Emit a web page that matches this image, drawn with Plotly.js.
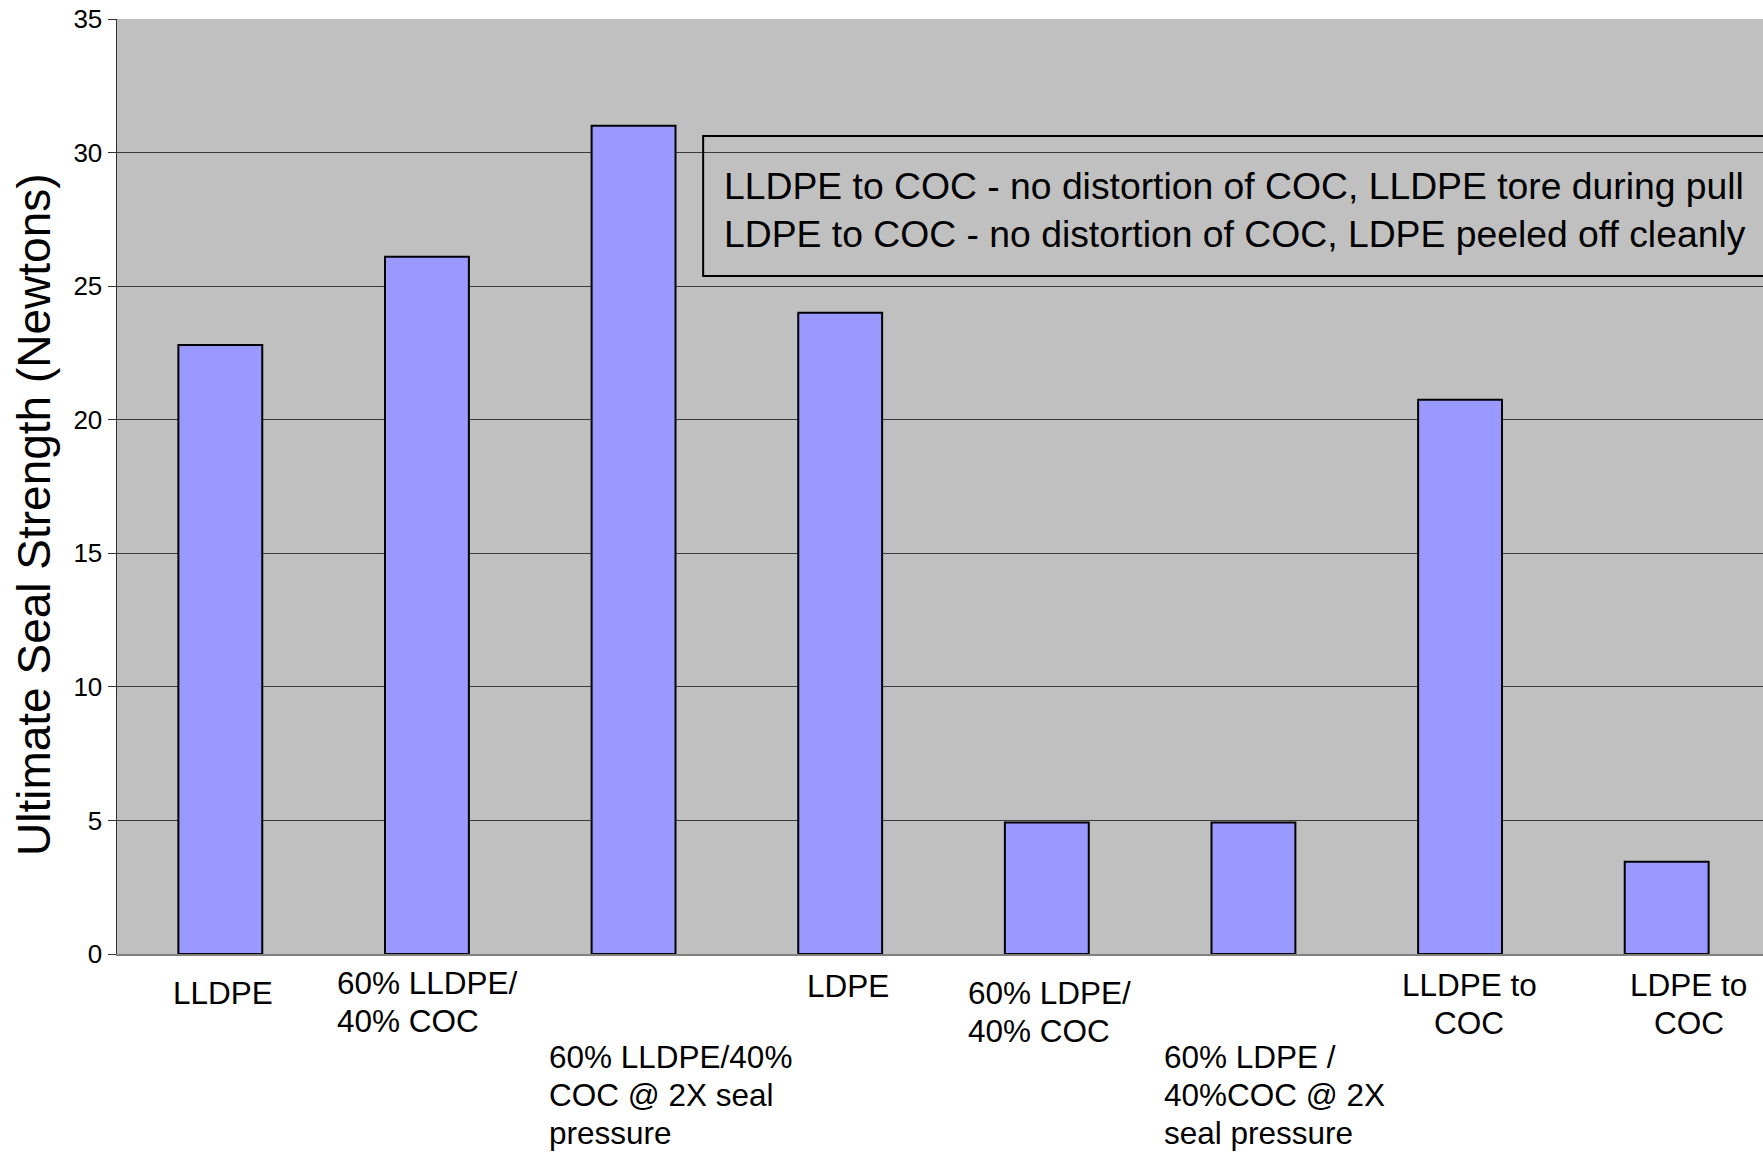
<!DOCTYPE html>
<html>
<head>
<meta charset="utf-8">
<script src="https://cdn.plot.ly/plotly-3.0.1.min.js"></script>
<style>
  html, body { margin: 0; padding: 0; overflow: hidden; background: #ffffff; }
  #chart { width: 1780px; height: 1152px; }
</style>
</head>
<body>
<div id="chart"></div>
<script>
// ---- data ----
const categories = [
  "LLDPE",
  "60% LLDPE/40% COC",
  "60% LLDPE/40% COC @ 2X seal pressure",
  "LDPE",
  "60% LDPE/40% COC",
  "60% LDPE /40%COC @ 2X seal pressure",
  "LLDPE to COC",
  "LDPE to COC"
];
const tickLabels = [
  "LLDPE",
  "60% LLDPE/<br>40% COC",
  "60% LLDPE/40%<br>COC @ 2X seal<br>pressure",
  "LDPE",
  "60% LDPE/<br>40% COC",
  "60% LDPE /<br>40%COC @ 2X<br>seal pressure",
  "LLDPE to<br>COC",
  "LDPE to<br>COC"
];
const sealStrength = [22.8, 26.1, 31.0, 24.0, 4.92, 4.92, 20.75, 3.45];
const yTickValues = [0, 5, 10, 15, 20, 25, 30, 35];
const yAxisTitle = "Ultimate Seal Strength (Newtons)";
const noteLines = [
  "LLDPE to COC - no distortion of COC, LLDPE tore during pull",
  "LDPE to COC - no distortion of COC, LDPE peeled off cleanly"
];

// ---- label placement (style only) ----
const labelStyle = [
  {anchor: "center", dx: 3,   cy: 993},
  {anchor: "left",   dx: -92, cy: 1002},
  {anchor: "left",   dx: -87, cy: 1095},
  {anchor: "center", dx: 8,   cy: 986},
  {anchor: "left",   dx: -81, cy: 1012},
  {anchor: "left",   dx: -91, cy: 1095},
  {anchor: "center", dx: 9,   cy: 1004},
  {anchor: "center", dx: 22,  cy: 1004}
];
const LABEL_LINE_GAP = 38.2;

const FONT = "'Liberation Sans', Arial, sans-serif";
const MT = 19, MB = 198, H = 1152;
const plotBottom = H - MB;

const trace = {
  type: "bar",
  x: categories,
  y: sealStrength,
  marker: { color: "#9999FF", line: { color: "#000000", width: 2 } },
  hoverinfo: "x+y"
};

const annotations = [];
categories.forEach((c, i) => {
  const lines = tickLabels[i].split("<br>");
  const n = lines.length;
  lines.forEach((ln, k) => {
    const cy = labelStyle[i].cy + (k - (n - 1) / 2) * LABEL_LINE_GAP;
    annotations.push({
      xref: "x", yref: "paper",
      x: c, y: 0,
      xanchor: labelStyle[i].anchor,
      yanchor: "middle",
      xshift: labelStyle[i].anchor === "left" ? labelStyle[i].dx : labelStyle[i].dx,
      yshift: -(cy - plotBottom),
      text: ln,
      showarrow: false,
      font: { family: FONT, size: 31.5, color: "#000000" }
    });
  });
});

annotations.push({
  xref: "paper", yref: "paper",
  x: -0.0502, y: 0.4695,
  xanchor: "center", yanchor: "middle",
  textangle: -90,
  text: yAxisTitle,
  showarrow: false,
  font: { family: FONT, size: 46, color: "#000000" }
});

annotations.push({
  xref: "paper", yref: "paper",
  x: 0.366, y: 0.7955,
  xanchor: "left", yanchor: "middle",
  text: noteLines.join("<br>"),
  align: "left",
  showarrow: false,
  font: { family: FONT, size: 37.3, color: "#000000" }
});

const layout = {
  width: 1780,
  height: H,
  margin: { l: 117, r: 10, t: MT, b: MB, pad: 0 },
  paper_bgcolor: "#ffffff",
  plot_bgcolor: "#C0C0C0",
  showlegend: false,
  bargap: 0.594,
  font: { family: FONT, color: "#000000" },
  xaxis: {
    type: "category",
    categoryorder: "array",
    categoryarray: categories,
    range: [-0.5, categories.length - 0.5],
    showticklabels: false,
    ticks: "",
    showgrid: false,
    zeroline: false,
    showline: true,
    linecolor: "#808080",
    linewidth: 2,
    fixedrange: true
  },
  yaxis: {
    range: [0, 35],
    tickvals: yTickValues,
    ticktext: yTickValues.map(String),
    ticks: "outside",
    ticklen: 8,
    tickwidth: 1,
    tickcolor: "#333333",
    tickfont: { family: FONT, size: 26, color: "#000000" },
    showgrid: true,
    gridcolor: "#3a3a3a",
    gridwidth: 1,
    zeroline: false,
    showline: true,
    linecolor: "#333333",
    linewidth: 1.5,
    mirror: false,
    fixedrange: true
  },
  shapes: [{
    type: "rect",
    xref: "paper", yref: "paper",
    x0: 0.3546, x1: 1.02,
    y0: 0.7251, y1: 0.8749,
    line: { color: "#000000", width: 2 },
    fillcolor: "rgba(0,0,0,0)",
    layer: "above"
  }],
  annotations: annotations
};

Plotly.newPlot("chart", [trace], layout, { displayModeBar: false, staticPlot: true });
</script>
</body>
</html>
